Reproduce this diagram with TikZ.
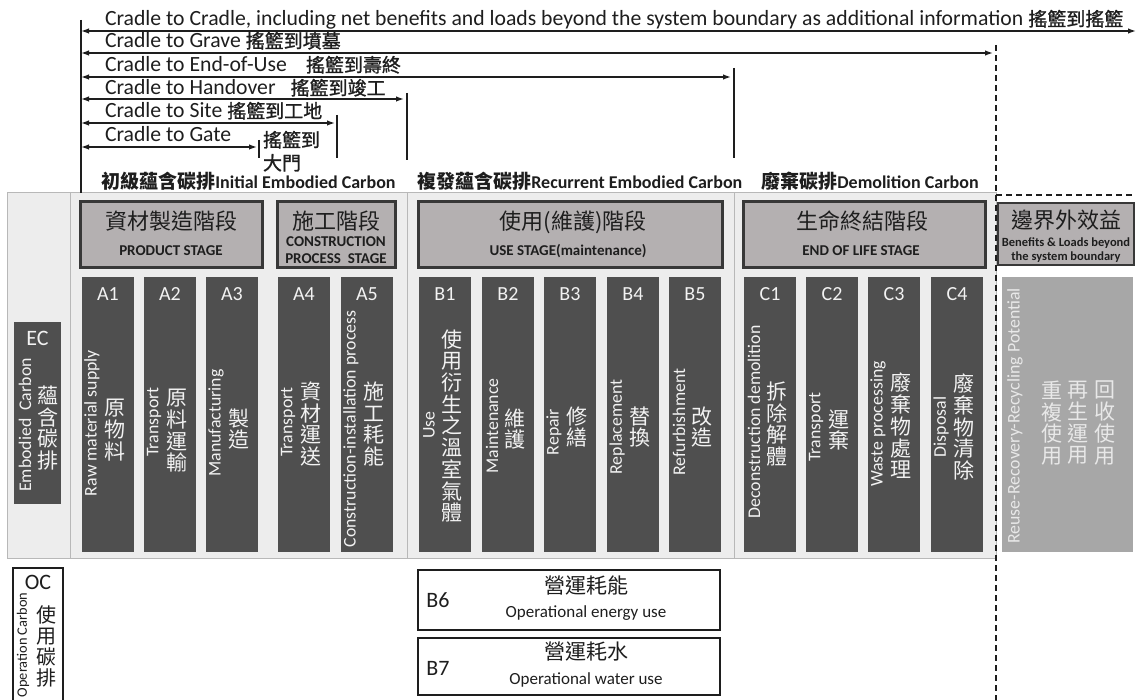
\documentclass[tikz,border=0pt]{standalone}
\usepackage{fontspec}
\setmainfont{Carlito}
\newfontfamily\cjk{Noto Sans CJK TC}
\newfontfamily\cjkm[FakeBold=1.2]{Noto Sans CJK TC}
\usetikzlibrary{arrows.meta}
\definecolor{darkc}{HTML}{4F4F4F}
\definecolor{headc}{HTML}{B4B0B1}
\definecolor{headb}{HTML}{383838}
\definecolor{reusec}{HTML}{A7A7A7}
\definecolor{panelc}{HTML}{EDEDED}
\definecolor{panelb}{HTML}{B8B8B8}
\definecolor{inkc}{HTML}{1E1E1E}
\definecolor{ltext}{HTML}{F2F2F2}
\definecolor{rtext}{HTML}{E8E8E8}
\newcommand{\fsz}[2]{\fontsize{#1}{#2}\selectfont}
\newcommand{\zh}[1]{{\cjkm\fsz{19}{22}#1}}
\newcommand{\modcol}[7]{%
  \node[modbox] (#1) at (#2,414.5) {};
  \node[modlbl] at (#2,294) {#3};
  \node[roten] at (#2-16,#5) {#4};
  \node[vcn] at (#2+7,#7) {#6};
}
\begin{document}
\begin{tikzpicture}[x=1pt,y=-1pt,
  every node/.style={inner sep=0pt, outer sep=0pt},
  arr/.style={line width=1.4pt, draw=inkc, {Latex[length=8pt,width=5.5pt]}-{Latex[length=8pt,width=5.5pt]}},
  vline/.style={line width=1.4pt, draw=inkc},
  bnd/.style={line width=2pt, draw=inkc, dash pattern=on 6pt off 4pt},
  lbl/.style={anchor=base west, font=\fsz{21.7}{25}, text=inkc},
  seclbl/.style={anchor=base west, font=\bfseries\fsz{18}{22}, text=inkc},
  head/.style={fill=headc, draw=headb, line width=3pt},
  headcn/.style={font=\cjk\fsz{22}{24}, text=inkc},
  headen/.style={font=\bfseries\fsz{15}{17}, text=inkc},
  modbox/.style={fill=darkc, minimum width=52pt, minimum height=275pt},
  modlbl/.style={font=\fsz{20}{22}, text=ltext},
  roten/.style={rotate=90, font=\fsz{17.8}{20}, text=ltext},
  vcn/.style={align=center, font=\cjk\fsz{21}{21.7}, text=ltext},
  opbox/.style={draw=inkc, line width=2pt, fill=white, minimum width=302pt},
]
\useasboundingbox (0,0) rectangle (1136,700);
\fill[white] (0,0) rectangle (1136,700);

% background panel
\node[draw=panelb, fill=panelc, line width=1pt, minimum width=989pt, minimum height=365pt, anchor=north west] (panel) at (7,193) {};
\draw[panelb, line width=1pt] (70,193) -- (70,558);
\draw[panelb, line width=1pt] (407,193) -- (407,558);
\draw[panelb, line width=1pt] (734,193) -- (734,558);

% system boundary (dashed)
\coordinate (bt) at (996,45);
\coordinate (bb) at (996,700);
\coordinate (bc) at (996,195);
\coordinate (br) at (1136,195);
\draw[bnd] (bt) -- (bb);
\draw[bnd] (bc) -- (br);

% scope arrows
\coordinate (v0t) at (81,20);   \coordinate (v0b) at (81,193);
\draw[vline] (v0t) -- (v0b);
\coordinate (L1) at (81,31);  \coordinate (R1) at (1136,31);
\coordinate (L2) at (81,53);  \coordinate (R2) at (993,53);
\coordinate (L3) at (81,77);  \coordinate (R3) at (731,77);
\coordinate (L4) at (81,99);  \coordinate (R4) at (404,99);
\coordinate (L5) at (81,123); \coordinate (R5) at (335,123);
\coordinate (L6) at (81,147); \coordinate (R6) at (257,147);
\draw[arr] (L1) -- (R1);
\draw[arr] (L2) -- (R2);
\draw[arr] (L3) -- (R3);
\draw[arr] (L4) -- (R4);
\draw[arr] (L5) -- (R5);
\draw[arr] (L6) -- (R6);
\coordinate (g1) at (259,140); \coordinate (g2) at (259,158);
\coordinate (s1) at (337,115); \coordinate (s2) at (337,158);
\coordinate (h1) at (407,93);  \coordinate (h2) at (407,160);
\coordinate (e1) at (734,68);  \coordinate (e2) at (734,158);
\draw[vline] (g1) -- (g2);
\draw[vline] (s1) -- (s2);
\draw[vline] (h1) -- (h2);
\draw[vline] (e1) -- (e2);

\node[lbl] (t1) at (105,26) {Cradle to Cradle, including net benefits and loads beyond the system boundary as additional information \zh{搖籃到搖籃}};
\node[lbl] (t2) at (105,48) {Cradle to Grave \zh{搖籃到墳墓}};
\node[lbl] (t3) at (105,72) {Cradle to End-of-Use\hspace{19pt}\zh{搖籃到壽終}};
\node[lbl] (t4) at (105,95) {Cradle to Handover\hspace{15pt}\zh{搖籃到竣工}};
\node[lbl] (t5) at (105,118) {Cradle to Site \zh{搖籃到工地}};
\node[lbl] (t6) at (105,142) {Cradle to Gate};
\node[anchor=base west, text=inkc] (t6c) at (263,147) {\zh{搖籃到}};
\node[anchor=base west, text=inkc] (t6d) at (263,170) {\zh{大門}};

% section labels
\node[seclbl] (s1l) at (97,189) {{\cjk\fsz{19}{22} 初級蘊含碳排}Initial Embodied Carbon};
\node[seclbl] (s2l) at (413,189) {{\cjk\fsz{19}{22} 複發蘊含碳排}Recurrent Embodied Carbon};
\node[seclbl] (s3l) at (757,189) {{\cjk\fsz{19}{22} 廢棄碳排}Demolition Carbon};

% stage headers
\node[head, minimum width=182pt, minimum height=66pt] (hP) at (171,235) {};
\node[headcn] at (171,221) {資材製造階段};
\node[headen] at (171,251) {PRODUCT STAGE};
\node[head, minimum width=118pt, minimum height=66pt] (hC) at (336,235) {};
\node[headcn] at (336,221) {施工階段};
\node[headen] at (336,242) {CONSTRUCTION};
\node[headen] at (336,259) {PROCESS\ \ STAGE};
\node[head, minimum width=304pt, minimum height=66pt] (hU) at (570,235) {};
\node[headcn] at (573,222) {使用(維護)階段};
\node[headen] at (568,251) {USE STAGE(maintenance)};
\node[head, minimum width=242pt, minimum height=66pt] (hE) at (864,235) {};
\node[headcn] at (862,221) {生命終結階段};
\node[headen] at (861,251) {END OF LIFE STAGE};
\node[head, line width=2pt, minimum width=136pt, minimum height=62pt] (hB) at (1066,234) {};
\node[headcn] at (1066,220) {邊界外效益};
\node[font=\bfseries\fsz{12.5}{14.5}, text=inkc, align=center] at (1066,250) {Benefits \& Loads beyond\\the system boundary};

% EC box
\node[modbox, minimum width=47pt, minimum height=182pt] (EC) at (37.5,413) {};
\node[font=\fsz{22}{24}, text=ltext] at (37.5,338) {EC};
\node[roten] at (25,425) {Embodied\ \ Carbon};
\node[vcn] at (48,428) {蘊\\含\\碳\\排};

% modules
\modcol{A1}{108}{A1}{Raw material supply}{423}{原\\物\\料}{430}
\modcol{A2}{170}{A2}{Transport}{422}{原\\料\\運\\輸}{431}
\modcol{A3}{232}{A3}{Manufacturing}{423}{製\\造}{429}
\modcol{A4}{304}{A4}{Transport}{422}{資\\材\\運\\送}{424}
\modcol{A5}{367}{A5}{Construction-installation process}{429}{施\\工\\耗\\能}{424}
\modcol{B1}{445}{B1}{Use}{425}{使\\用\\衍\\生\\之\\溫\\室\\氣\\體}{426}
\modcol{B2}{508}{B2}{Maintenance}{426}{維\\護}{429}
\modcol{B3}{570}{B3}{Repair}{432}{修\\繕}{427}
\modcol{B4}{633}{B4}{Replacement}{427}{替\\換}{427}
\modcol{B5}{695}{B5}{Refurbishment}{422}{改\\造}{427}
\modcol{C1}{770}{C1}{Deconstruction demolition}{422}{拆\\除\\解\\體}{424}
\modcol{C2}{832}{C2}{Transport}{427}{運\\棄}{430}
\modcol{C3}{894}{C3}{Waste processing}{424}{廢\\棄\\物\\處\\理}{426}
\modcol{C4}{957}{C4}{Disposal}{427}{廢\\棄\\物\\清\\除}{427}

% beyond boundary module
\node[fill=reusec, minimum width=131pt, minimum height=275pt] (D) at (1067.5,414.5) {};
\node[roten, text=rtext] at (1015,416) {Reuse-Recovery-Recycling Potential};
\node[vcn, text=rtext] at (1052,423) {重\\複\\使\\用};
\node[vcn, text=rtext] at (1078,423) {再\\生\\運\\用};
\node[vcn, text=rtext] at (1105,423) {回\\收\\使\\用};

% operational carbon
\node[draw=inkc, line width=1.5pt, fill=white, minimum width=50pt, minimum height=136pt] (OC) at (38,636) {};
\node[font=\fsz{22}{24}, text=inkc] at (38,582) {OC};
\node[rotate=90, font=\fsz{14.4}{16}, text=inkc] at (23,645) {Operation Carbon};
\node[align=center, font=\cjk\fsz{20}{21}, text=inkc] at (46,646) {使\\用\\碳\\排};

\node[opbox, minimum height=60pt] (B6) at (569,600) {};
\node[font=\fsz{22}{24}, text=inkc] at (438,600) {B6};
\node[font=\cjk\fsz{21}{23}, text=inkc] at (586,586) {營運耗能};
\node[font=\fsz{17}{19}, text=inkc] at (586,613) {Operational energy use};
\node[opbox, minimum height=57pt] (B7) at (569,666.5) {};
\node[font=\fsz{22}{24}, text=inkc] at (438,668) {B7};
\node[font=\cjk\fsz{21}{23}, text=inkc] at (586,652) {營運耗水};
\node[font=\fsz{17}{19}, text=inkc] at (586,680) {Operational water use};
\end{tikzpicture}
\end{document}
